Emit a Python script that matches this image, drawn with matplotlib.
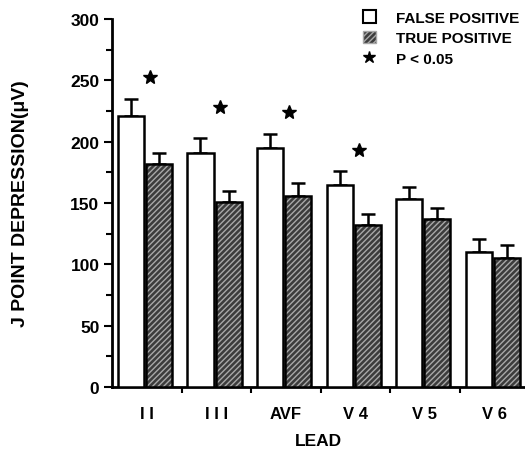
import matplotlib.pyplot as plt
import numpy as np
from matplotlib.patches import Patch
from matplotlib.lines import Line2D

plt.rcParams["font.family"] = ["Liberation Sans", "DejaVu Sans"]
plt.rcParams["font.weight"] = "bold"

leads = ["I I", "I I I", "AVF", "V 4", "V 5", "V 6"]
false_pos = [221, 191, 195, 165, 153, 110]
false_err = [14, 12, 11, 11, 10, 11]
true_pos = [182, 151, 156, 132, 137, 105]
true_err = [9, 9, 10, 9, 9, 11]
# star height for leads with p < 0.05 (None = not significant)
star_y = [253, 228, 224, 193, None, None]

fig = plt.figure(figsize=(5.25, 4.52), dpi=100)
ax = fig.add_axes([0.2133, 0.1416, 0.7867, 0.8142])

x = np.arange(len(leads)) + 0.5
w = 0.375
xf = x - 0.227
xt = x + 0.18

ax.bar(xf, false_pos, w, color="white", edgecolor="black", linewidth=1.8, zorder=3)
ax.errorbar(xf, false_pos, yerr=[np.zeros(6), false_err], fmt="none",
            ecolor="black", elinewidth=1.8, capsize=5, capthick=1.8, zorder=2)

ax.bar(xt, true_pos, w, color="#3c3c3c", edgecolor="#a8a8a8", hatch="//////",
       linewidth=0, zorder=3)
ax.bar(xt, true_pos, w, color="none", edgecolor="black", linewidth=1.8, zorder=4)
ax.errorbar(xt, true_pos, yerr=[np.zeros(6), true_err], fmt="none",
            ecolor="black", elinewidth=1.8, capsize=5, capthick=1.8, zorder=2)

for xi, sy in zip(x, star_y):
    if sy is not None:
        ax.plot(xi + 0.05, sy, marker="*", color="black", markersize=10, zorder=5)

ax.set_xlim(0, 5.94)
ax.set_ylim(0, 300)
ax.set_yticks(np.arange(0, 301, 50))
ax.set_yticks(np.arange(25, 300, 50), minor=True)
ax.set_xticks(x, leads)
ax.set_xticks(np.arange(1, 6), minor=True)

ax.tick_params(axis="y", which="major", length=6, width=1.5, labelsize=12.5, pad=3)
ax.tick_params(axis="y", which="minor", length=4, width=1.5)
ax.tick_params(axis="x", which="major", length=0, labelsize=12, pad=14)
ax.tick_params(axis="x", which="minor", length=4, width=1.5)

for s in ["top", "right"]:
    ax.spines[s].set_visible(False)
for s in ["left", "bottom"]:
    ax.spines[s].set_linewidth(2)

ax.set_ylabel("J POINT DEPRESSION(\u03bcV)", fontsize=14, fontweight="bold", labelpad=30)
ax.set_xlabel("LEAD", fontsize=12.5, fontweight="bold", labelpad=8)

handles = [
    Patch(facecolor="white", edgecolor="black", linewidth=1.5),
    Patch(facecolor="#3c3c3c", edgecolor="#a8a8a8", hatch="//////", linewidth=1.0),
    Line2D([], [], linestyle="none", marker="*", color="black", markersize=9),
]
fig.legend(handles, ["FALSE POSITIVE", "TRUE POSITIVE", "P < 0.05"],
           loc="upper left", bbox_to_anchor=(0.665, 1.005), frameon=False,
           handlelength=0.85, handleheight=0.85, handletextpad=1.3,
           labelspacing=0.4, prop={"size": 11, "weight": "bold"})

fig.savefig("out.png", dpi=100)
